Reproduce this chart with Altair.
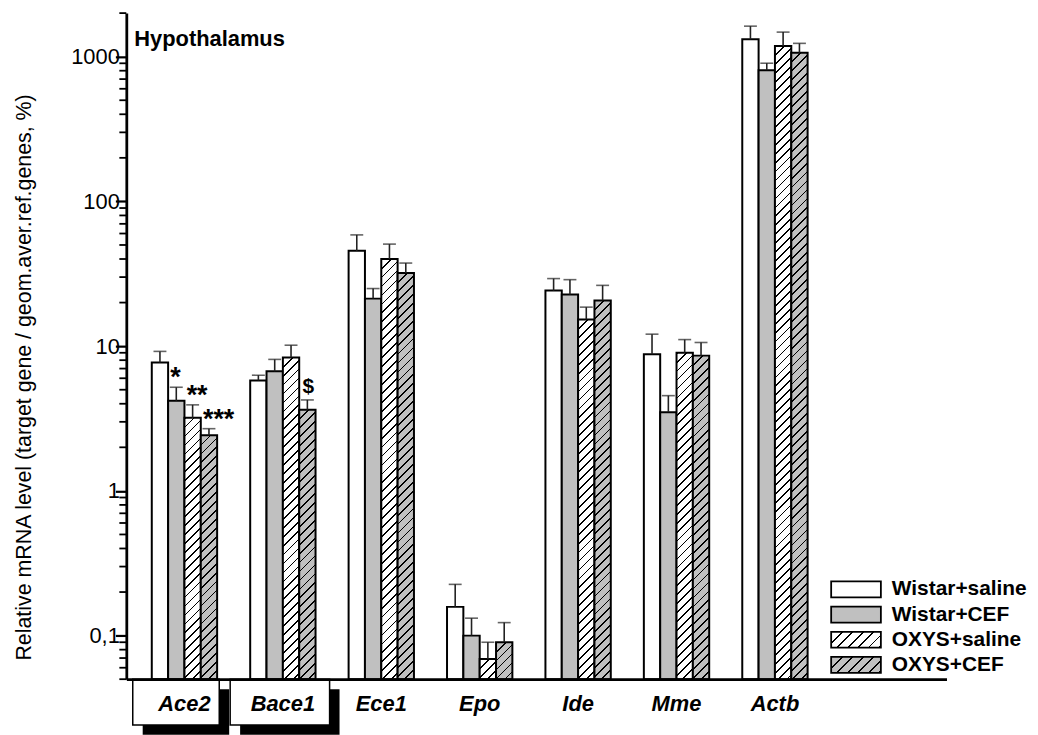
import math
import altair as alt

# ---------------- data ----------------
genes = ["Ace2", "Bace1", "Ece1", "Epo", "Ide", "Mme", "Actb"]
series = ["Wistar+saline", "Wistar+CEF", "OXYS+saline", "OXYS+CEF"]

wistar_saline = [7.7, 5.8, 45.6, 0.158, 24.2, 8.8, 1317]
wistar_saline_sem = [1.5, 0.5, 13.1, 0.068, 5.1, 3.3, 308]
wistar_cef = [4.2, 6.7, 21.3, 0.100, 22.7, 3.5, 807]
wistar_cef_sem = [1.0, 1.4, 3.7, 0.032, 6.1, 1.05, 94]
oxys_saline = [3.2, 8.35, 40.0, 0.069, 15.3, 9.0, 1185]
oxys_saline_sem = [0.73, 1.8, 10.7, 0.021, 3.3, 2.1, 293]
oxys_cef = [2.42, 3.63, 32.0, 0.090, 20.7, 8.6, 1065]
oxys_cef_sem = [0.27, 0.62, 5.5, 0.033, 5.6, 2.0, 171]

sig_genes = ["Ace2", "Ace2", "Ace2", "Bace1"]
sig_series = ["Wistar+CEF", "OXYS+saline", "OXYS+CEF", "OXYS+CEF"]
sig_labels = ["*", "**", "***", "$"]

boxed_genes = ["Ace2", "Bace1"]

y_major = [0.1, 1, 10, 100, 1000]
y_minor = [0.05, 0.06, 0.07, 0.08, 0.09,
           0.2, 0.3, 0.4, 0.5, 0.6, 0.7, 0.8, 0.9,
           2, 3, 4, 5, 6, 7, 8, 9,
           20, 30, 40, 50, 60, 70, 80, 90,
           200, 300, 400, 500, 600, 700, 800, 900, 2000]

title_text = "Hypothalamus"
y_title = "Relative mRNA level (target gene / geom.aver.ref.genes, %)"

# ---------------- styling / layout ----------------
FONT = "Liberation Sans"
PLOT_W, PLOT_H = 825, 670
Y_LO, Y_HI = 0.05, 2000
P_IN, P_OUT, ALIGN = 0.336, 0.835, 0.155
GRAY = "#c0c0c0"
base_fill = {"Wistar+saline": "white", "Wistar+CEF": GRAY,
             "OXYS+saline": "white", "OXYS+CEF": GRAY}
hatched = {"Wistar+saline": False, "Wistar+CEF": False,
           "OXYS+saline": True, "OXYS+CEF": True}
box_style = {"Ace2": (87, -8.5), "Bace1": (100, -3)}


def hatch(bg, w, h, gap=9.0, thick=1.8, ink="#000000"):
    span = w + h
    stops = []
    k = 0
    while k * gap / span < 1:
        s = k * gap / span
        e = min(s + thick / span, 1.0)
        n = min((k + 1) * gap / span, 1.0)
        stops += [{"offset": round(s, 5), "color": ink},
                  {"offset": round(e, 5), "color": ink},
                  {"offset": round(e, 5), "color": bg},
                  {"offset": round(n, 5), "color": bg}]
        k += 1
    sc = span / (w * w + h * h)
    return {"gradient": "linear", "x1": 0, "y1": 0,
            "x2": round(sc * w, 6), "y2": round(sc * h, 6), "stops": stops}


def px_height(v):
    return PLOT_H * (math.log10(v) - math.log10(Y_LO)) / (math.log10(Y_HI) - math.log10(Y_LO))


step = PLOT_W / (len(genes) - P_IN + 2 * P_OUT)
bar_w = step * (1 - P_IN) / len(series)

means = dict(zip(series, [wistar_saline, wistar_cef, oxys_saline, oxys_cef]))
sems = dict(zip(series, [wistar_saline_sem, wistar_cef_sem, oxys_saline_sem, oxys_cef_sem]))

rows = []
for s in series:
    for g, v, e in zip(genes, means[s], sems[s]):
        fill = hatch(base_fill[s], bar_w, px_height(v)) if hatched[s] else base_fill[s]
        rows.append({"gene": g, "series": s, "value": v, "top": v + e, "fill": fill})

tops = {(r["gene"], r["series"]): r["top"] for r in rows}
sig_rows = [{"gene": g, "series": s, "label": l, "top": tops[(g, s)]}
            for g, s, l in zip(sig_genes, sig_series, sig_labels)]

legend_rows = [{"series": s,
                "fill": hatch(base_fill[s], 50, 16, gap=10.5) if hatched[s] else base_fill[s]}
               for s in series]

x_enc = alt.X("gene:N", sort=genes,
              scale=alt.Scale(domain=genes, paddingInner=P_IN, paddingOuter=P_OUT, align=ALIGN),
              axis=alt.Axis(title=None, ticks=False, labelAngle=0, labelFont=FONT,
                            labelFontSize=22, labelFontWeight="bold", labelFontStyle="italic",
                            labelColor="black", labelPadding=14, domainColor="black",
                            domainWidth=2.8, zindex=1))
xo_enc = alt.XOffset("series:N", sort=series, scale=alt.Scale(domain=series))
y_scale = alt.Scale(type="log", domain=[Y_LO, Y_HI], nice=False)
y_axis = alt.Axis(
    values=y_major, grid=False, labelOverlap=False,
    tickSize=11, tickWidth=2.2,
    tickColor="black", domainColor="black", domainWidth=2.8,
    labelExpr="datum.value == 0.1 ? '0,1' : format(datum.value, 'd')",
    labelFont=FONT, labelFontSize=22, labelColor="black", labelPadding=-4,
    title=y_title, titleFont=FONT, titleFontSize=21.5, titleFontWeight="normal",
    titleColor="black", titleAngle=270, titleX=-96, titleY=366,
    titleBaseline="alphabetic", titleAlign="center")

bar_data = alt.Data(values=rows)

bars = alt.Chart(bar_data).mark_bar(stroke="black", strokeWidth=2).encode(
    x=x_enc, xOffset=xo_enc,
    y=alt.Y("value:Q", scale=y_scale, axis=y_axis, stack=None),
    fill=alt.Fill("fill:N", scale=None))

err = alt.Chart(bar_data).mark_rule(color="#222222", strokeWidth=1.6).encode(
    x=x_enc, xOffset=xo_enc,
    y=alt.Y("value:Q", stack=None), y2="top:Q")

caps = alt.Chart(bar_data).mark_tick(color="#222222", thickness=1.6, size=13,
                                     orient="horizontal").encode(
    x=x_enc, xOffset=xo_enc, y=alt.Y("top:Q", stack=None))

# minor ticks of the log axis, drawn on the y scale
minor = alt.Chart(alt.Data(values=[{"v": v} for v in y_minor])).mark_rule(
    color="black", strokeWidth=1.8).encode(
    x=alt.value(-7), x2=alt.value(0), y=alt.Y("v:Q", stack=None))

sig_data = alt.Data(values=sig_rows)
stars = alt.Chart(sig_data).transform_filter("datum.label != '$'").mark_text(
    align="left", baseline="alphabetic", dx=-6, dy=-1, font=FONT,
    fontSize=27, fontWeight="bold", color="black").encode(
    x=x_enc, xOffset=xo_enc, y=alt.Y("top:Q", stack=None), text="label:N")
other_sig = alt.Chart(sig_data).transform_filter("datum.label == '$'").mark_text(
    align="left", baseline="alphabetic", dx=-5, dy=-7, font=FONT,
    fontSize=21, fontWeight="bold", color="black").encode(
    x=x_enc, xOffset=xo_enc, y=alt.Y("top:Q", stack=None), text="label:N")

box_layers = []
for g in boxed_genes:
    bw, shift = box_style[g]
    d = alt.Data(values=[{"gene": g}])
    box_layers.append(alt.Chart(d).mark_bar(width=bw, xOffset=shift + 10, yOffset=10,
                                            y2Offset=10, color="black").encode(
        x=x_enc, y=alt.value(PLOT_H), y2=alt.value(PLOT_H + 46)))
    box_layers.append(alt.Chart(d).mark_bar(width=bw, xOffset=shift, fill="white",
                                            stroke="black", strokeWidth=1.5).encode(
        x=x_enc, y=alt.value(PLOT_H), y2=alt.value(PLOT_H + 46)))

title = alt.Chart(alt.Data(values=[{"t": title_text}])).mark_text(
    align="left", baseline="alphabetic", font=FONT, fontSize=22, fontWeight="bold",
    color="black").encode(x=alt.value(8), y=alt.value(33), text="t:N")

main = alt.layer(bars, err, caps, minor, stars, other_sig, *box_layers, title)

leg_y = alt.Y("series:N", sort=series,
              scale=alt.Scale(domain=series, range=[571.7, 663.6], paddingInner=0.368,
                              paddingOuter=0),
              axis=None)
leg_data = alt.Data(values=legend_rows)
leg_rect = alt.Chart(leg_data).mark_rect(stroke="black", strokeWidth=1.8).encode(
    x=alt.value(709), x2=alt.value(759), y=leg_y, fill=alt.Fill("fill:N", scale=None))
leg_text = alt.Chart(leg_data).mark_text(
    align="left", baseline="middle", font=FONT, fontSize=21, fontWeight="bold",
    color="black").encode(x=alt.value(770), y=leg_y, text="series:N")
legend = alt.layer(leg_rect, leg_text)

chart = alt.layer(main, legend).resolve_scale(y="independent").properties(
    width=PLOT_W, height=PLOT_H,
    autosize=alt.AutoSizeParams(type="none"),
    padding={"left": 119, "top": 3, "right": 84, "bottom": 54},
    background="white",
).configure_view(stroke=None)

chart.save("out.html", embed_options={"renderer": "svg", "actions": False})
